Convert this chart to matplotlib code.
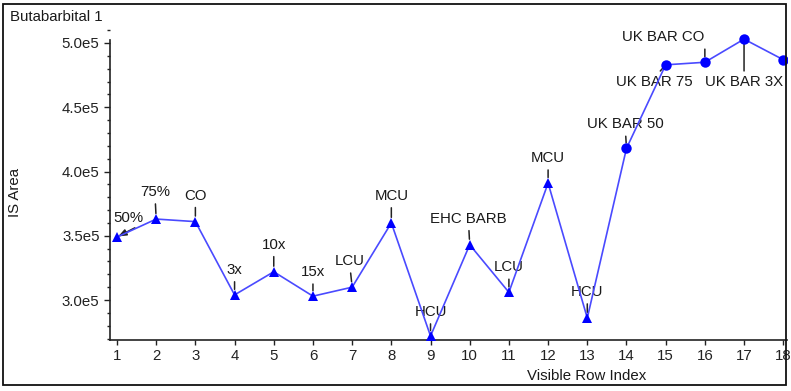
import matplotlib
matplotlib.use("Agg")
import matplotlib.pyplot as plt
from matplotlib.patches import Rectangle
from matplotlib.ticker import MultipleLocator, FuncFormatter

plt.rcParams['font.family'] = ['Liberation Sans', 'DejaVu Sans']

# ---- data ----
row_index = list(range(1, 19))
is_area = [3.49e5, 3.63e5, 3.61e5, 3.04e5, 3.22e5, 3.03e5, 3.10e5, 3.60e5, 2.72e5,
           3.43e5, 3.06e5, 3.91e5, 2.86e5, 4.18e5, 4.83e5, 4.85e5, 5.03e5, 4.87e5]
point_labels = ["50%", "75%", "CO", "3x", "10x", "15x", "LCU", "MCU", "HCU",
                "EHC BARB", "LCU", "MCU", "HCU", "UK BAR 50", "UK BAR 75",
                "UK BAR CO", "UK BAR 3X", ""]
n_triangle = 13  # first 13 rows drawn with triangles, rest with circles

title = "Butabarbital 1"
xlabel = "Visible Row Index"
ylabel = "IS Area"

# ---- figure ----
W, H = 791, 391
fig = plt.figure(figsize=(W / 100, H / 100), dpi=100)
fig.patch.set_facecolor('white')

def px(x, y):
    return x / W, 1 - y / H

ax_l, ax_r, ax_t, ax_b = 110, 787, 30, 340
ax = fig.add_axes([ax_l / W, 1 - ax_b / H, (ax_r - ax_l) / W, (ax_b - ax_t) / H])
ax.set_facecolor('white')

ymin, ymax = 2.689e5, 5.101e5
ax.set_ylim(ymin, ymax)
ax.set_xlim(0.8214, 18.096)

for s in ['top', 'right']:
    ax.spines[s].set_visible(False)
ax.spines['left'].set_bounds(ymin, 5.0257e5)
ax.spines['left'].set_color('#222222')
ax.spines['bottom'].set_color('#222222')
ax.spines['left'].set_linewidth(1.2)
ax.spines['bottom'].set_linewidth(1.2)

ax.xaxis.set_major_locator(MultipleLocator(1))
ax.yaxis.set_major_locator(MultipleLocator(0.5e5))
ax.yaxis.set_minor_locator(MultipleLocator(0.1e5))
ax.yaxis.set_major_formatter(FuncFormatter(lambda v, p: f"{v/1e5:.1f}e5"))
ax.tick_params(axis='y', which='major', length=4.5, width=1, color='#222222',
               labelsize=10.8, labelcolor='#222222', pad=3)
ax.tick_params(axis='y', which='minor', length=2.5, width=1, color='#222222')
ax.tick_params(axis='x', which='major', length=3.5, width=1, color='#222222',
               labelsize=10.8, labelcolor='#222222', pad=3)

ax.plot(row_index, is_area, color='#4a4aff', lw=1.2, zorder=2)
ax.plot(row_index[:n_triangle], is_area[:n_triangle], ls='none', marker='^',
        ms=7, mew=0, color='#0000ff', zorder=3, clip_on=False)
ax.plot(row_index[n_triangle:], is_area[n_triangle:], ls='none', marker='o',
        ms=7.5, mew=0, color='#0000ff', zorder=3)

# label placement (pixel offsets of text from point, alignment, leader setup)
up = dict(ha='center', relpos=(0.5, 0.0), sA=1.5, sB=4, style='-')
place = [
    (11, 19, dict(ha='center', relpos=(0.95, 0.05), sA=0, sB=1,
                  style='-|>,head_length=0.45,head_width=0.18')),
    (-1, 27, up), (0, 26, up), (0, 25, up), (0, 27, up), (0, 24, up),
    (-2, 26, up), (0, 27, up), (0, 24, up), (-1, 26, up), (0, 25, up),
    (0, 25, up), (0, 26, up), (-1, 24, up),
    (-11, -17, dict(ha='center', relpos=(0.53, 1.0), sA=1, sB=3, style='-')),
    (0, 25, dict(ha='right', relpos=(1.0, 0.0), sA=1.5, sB=4, style='-')),
    (0, -43, dict(ha='center', relpos=(0.5, 1.0), sA=1, sB=0, style='-')),
    (0, 0, None),
]

for x, y, lab, (dx, dy, st) in zip(row_index, is_area, point_labels, place):
    if not lab or st is None:
        continue
    ax.annotate(lab, xy=(x, y), xytext=(dx, dy), textcoords='offset pixels',
                ha=st['ha'], va='center', fontsize=10.8, color='#1a1a1a',
                arrowprops=dict(arrowstyle=st['style'], color='#222222', lw=1.1,
                                shrinkA=st['sA'], shrinkB=st['sB'],
                                relpos=st['relpos']),
                zorder=1, annotation_clip=False)

# texts
fig.text(*px(10, 17), title, ha='left', va='center', fontsize=10.8, color='#1a1a1a')
fig.text(*px(15, 193), ylabel, ha='center', va='center', rotation=90,
         fontsize=10.8, color='#1a1a1a')
fig.text(*px(587, 376), xlabel, ha='center', va='center', fontsize=10.8,
         color='#1a1a1a')

# outer frame
x0, y0 = px(3, 385)
x1, y1 = px(786, 4)
fig.patches.append(Rectangle((x0, y0), x1 - x0, y1 - y0, transform=fig.transFigure,
                             fill=False, edgecolor='#111111', lw=1.3, zorder=10))

fig.savefig("out.png", dpi=100)
